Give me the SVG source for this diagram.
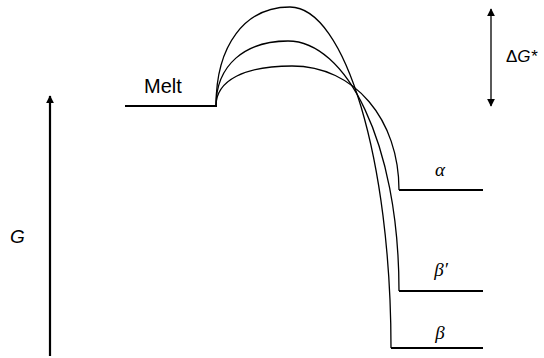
<svg xmlns="http://www.w3.org/2000/svg" width="544" height="358" viewBox="0 0 544 358">
<style>
.lvl{stroke:#000;stroke-width:2;fill:none}
.crv{stroke:#000;stroke-width:1.3;fill:none}
.sans{font-family:"Liberation Sans",Arial,sans-serif;fill:#000}
.greek{font-family:"Liberation Serif","Times New Roman",serif;font-style:italic;fill:#000;font-size:19px;text-anchor:middle}
</style>
<defs>
<marker id="ah" viewBox="0 0 10 10" refX="9" refY="5" markerWidth="8" markerHeight="8" markerUnits="userSpaceOnUse" orient="auto-start-reverse">
<path d="M0,0 L10,5 L0,10 Z" fill="#000"/>
</marker>
</defs>
<g id="melt">
<line class="lvl" x1="125" y1="106" x2="217" y2="106"/>
<text class="sans" x="144" y="93" font-size="20">Melt</text>
</g>
<g id="alpha">
<line class="lvl" x1="399" y1="190" x2="483" y2="190"/>
<text class="greek" x="440" y="176">α</text>
</g>
<g id="betaprime">
<line class="lvl" x1="399" y1="291" x2="483" y2="291"/>
<text class="greek" x="441" y="276">β′</text>
</g>
<g id="beta">
<line class="lvl" x1="391" y1="348" x2="483" y2="348"/>
<text class="greek" x="440" y="339">β</text>
</g>
<g id="axisG">
<line x1="50" y1="356" x2="50" y2="96" stroke="#000" stroke-width="2.2" marker-end="url(#ah)"/>
<text class="sans" x="10" y="243" font-size="19" font-style="italic">G</text>
</g>
<g id="deltaG">
<line x1="491" y1="9" x2="491" y2="106" stroke="#000" stroke-width="1.3" marker-start="url(#ah)" marker-end="url(#ah)"/>
<text class="sans" x="506" y="62" font-size="17">Δ<tspan font-style="italic">G*</tspan></text>
</g>
<g id="connectors">
<path class="crv" d="M216,106 C216,45 245,7 290,7 C345,7 391,160 391,348"/>
<path class="crv" d="M216,106 C216,65 245,41 288,41 C345,41 399,140 399,291"/>
<path class="crv" d="M216,106 C216,80 245,66 292,66 C355,66 399,120 399,190"/>
</g>
</svg>
